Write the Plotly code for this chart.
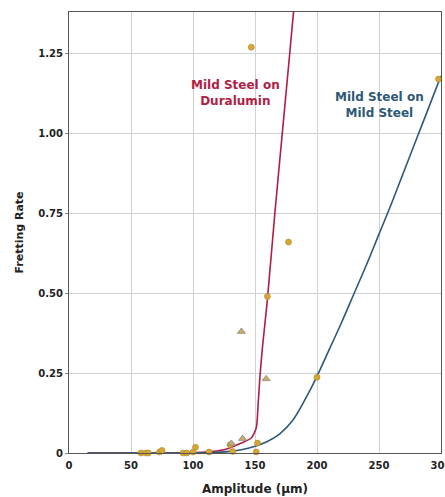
import plotly.graph_objects as go

# ---- data ----
dur_curve_x = [15, 80, 110, 125, 131, 139, 147, 151, 152.5, 154, 156, 160, 166, 172, 178, 182]
dur_curve_y = [0, 0, 0.003, 0.01, 0.018, 0.031, 0.047, 0.078, 0.15, 0.24, 0.33, 0.48, 0.75, 1.0, 1.25, 1.42]

ms_curve_x = [15, 40, 60, 80, 100, 110, 120, 130, 140, 150, 160, 170, 180, 190, 200,
              210, 220, 230, 240, 250, 260, 270, 280, 290, 300]
ms_curve_y = [0, 0, 0, 0, 0, 0.001, 0.002, 0.005, 0.011, 0.021, 0.036, 0.06, 0.1, 0.165, 0.24,
              0.325, 0.41, 0.5, 0.59, 0.685, 0.78, 0.88, 0.98, 1.08, 1.18]

pts_circle_x = [58, 62, 64, 73, 75, 92, 95, 100, 102, 113, 130, 132, 147, 151, 152, 160, 177, 200, 298]
pts_circle_y = [0, 0, 0, 0.003, 0.008, 0, 0, 0.003, 0.018, 0.003, 0.026, 0.005, 1.27, 0.003, 0.031, 0.49, 0.66, 0.237, 1.17]

pts_tri_x = [131, 139, 140, 159]
pts_tri_y = [0.03, 0.38, 0.045, 0.232]

x_ticks = [0, 50, 100, 150, 200, 250, 300]
y_ticks = [0, 0.25, 0.5, 0.75, 1.0, 1.25]
y_tick_labels = ["0", "0.25", "0.50", "0.75", "1.00", "1.25"]

RED = "#B01E45"
BLUE = "#2D5877"
GOLD = "#D9A62E"

fig = go.Figure()
fig.add_trace(go.Scatter(x=dur_curve_x, y=dur_curve_y, mode="lines",
                         line=dict(color=RED, width=1.6, shape="spline", smoothing=0.6),
                         showlegend=False, hoverinfo="skip"))
fig.add_trace(go.Scatter(x=ms_curve_x, y=ms_curve_y, mode="lines",
                         line=dict(color=BLUE, width=1.6, shape="spline", smoothing=1.0),
                         showlegend=False, hoverinfo="skip"))
fig.add_trace(go.Scatter(x=pts_circle_x, y=pts_circle_y, mode="markers",
                         marker=dict(symbol="circle", size=6, color=GOLD,
                                     line=dict(color="#A88A3A", width=0.6)),
                         cliponaxis=False, showlegend=False))
fig.add_trace(go.Scatter(x=pts_tri_x, y=pts_tri_y, mode="markers",
                         marker=dict(symbol="triangle-up", size=7, color="#C9AE6A",
                                     line=dict(color="#8C8478", width=0.8)),
                         cliponaxis=False, showlegend=False))

fig.add_annotation(x=134.5, y=1.125, text="Mild Steel on<br>Duralumin", showarrow=False,
                   font=dict(family="DejaVu Sans", size=12, color=RED, weight="bold"))
fig.add_annotation(x=250, y=1.09, text="Mild Steel on<br>Mild Steel", showarrow=False,
                   font=dict(family="DejaVu Sans", size=12, color=BLUE, weight="bold"))

fig.update_layout(
    width=445, height=497,
    margin=dict(l=69, r=4, t=12, b=44, autoexpand=False),
    paper_bgcolor="white", plot_bgcolor="white",
    font=dict(family="DejaVu Sans", color="#222"),
    xaxis=dict(range=[0, 300], tickvals=x_ticks, showgrid=True, gridcolor="#D2D2D2",
               gridwidth=1, showline=True, linecolor="#555", linewidth=1.2, mirror=True,
               ticks="", tickfont=dict(size=10, weight="bold", color="#222"),
               ticklabelstandoff=3, ticklabeloverflow="allow",
               zeroline=False, automargin=False,
               title=dict(text="Amplitude (µm)", standoff=14,
                          font=dict(size=12, weight="bold", color="#222"))),
    yaxis=dict(range=[0, 1.38], tickvals=y_ticks, ticktext=y_tick_labels, showgrid=True,
               gridcolor="#D2D2D2", gridwidth=1, showline=True, linecolor="#555",
               linewidth=1.2, mirror=True, ticks="outside", ticklen=3, tickcolor="#888",
               tickfont=dict(size=10, weight="bold", color="#222"), zeroline=False,
               automargin=False,
               title=dict(text="Fretting Rate", standoff=12,
                          font=dict(size=11, weight="bold", color="#222"))),
)

fig.write_html("out.html", config={"displayModeBar": False},
               post_script="document.body.style.margin='0';document.body.style.overflow='hidden';")
